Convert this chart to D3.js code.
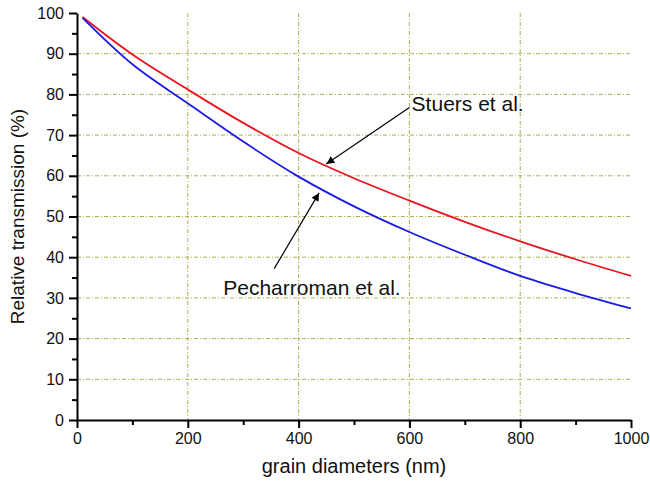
<!DOCTYPE html>
<html>
<head>
<meta charset="utf-8">
<script src="https://cdn.jsdelivr.net/npm/d3@7"></script>
<style>
  body { margin: 0; background: #fff; }
  text { font-family: Arial, "Liberation Sans", sans-serif; fill: #111; }
</style>
</head>
<body>
<div id="chart"></div>
<script>
var diameters = [10, 100, 200, 300, 400, 500, 600, 700, 800, 900, 1000];
var stuers = [99, 89.8, 81.2, 73.0, 65.6, 59.4, 53.9, 48.7, 43.9, 39.5, 35.4];
var pecharroman = [98.8, 87.4, 77.8, 68.4, 59.8, 52.5, 46.2, 40.6, 35.4, 31.2, 27.4];
var xTicks = [0, 200, 400, 600, 800, 1000];
var yTicks = [0, 10, 20, 30, 40, 50, 60, 70, 80, 90, 100];

var margin = {top: 13, right: 19, bottom: 67, left: 77},
    width = 650 - margin.left - margin.right,
    height = 487 - margin.top - margin.bottom;

var svg = d3.select("#chart")
    .append("svg")
    .attr("width", 650)
    .attr("height", 487)

var g = svg.append("g")
    .attr("transform", "translate(" + margin.left + "," + margin.top + ")")

var x = d3.scaleLinear().domain([0, 1000]).range([0, width]),
    y = d3.scaleLinear().domain([0, 100]).range([height, 0])

// grid
var gridColor = "#b0ad52";
g.selectAll(".vgrid")
    .data(xTicks.filter(function (d) { return d > 0 && d < 1000; }))
    .enter().append("line")
    .attr("x1", function (d) { return x(d); })
    .attr("x2", function (d) { return x(d); })
    .attr("y1", 0).attr("y2", height)
    .attr("stroke", gridColor)
    .attr("stroke-width", 1)
    .attr("stroke-dasharray", "4,2,1,2")

g.selectAll(".hgrid")
    .data(yTicks.filter(function (d) { return d > 0 && d < 100; }))
    .enter().append("line")
    .attr("x1", 0).attr("x2", width)
    .attr("y1", function (d) { return y(d); })
    .attr("y2", function (d) { return y(d); })
    .attr("stroke", gridColor)
    .attr("stroke-width", 1)
    .attr("stroke-dasharray", "4,2,1,2")

// minor ticks
g.append("g")
    .attr("transform", "translate(0," + height + ")")
    .call(d3.axisBottom(x).tickValues([100, 300, 500, 700, 900]).tickSize(5).tickFormat(""))
    .call(function (a) { a.select(".domain").remove(); })

g.append("g")
    .call(d3.axisLeft(y).tickValues(d3.range(5, 100, 10)).tickSize(5).tickFormat(""))
    .call(function (a) { a.select(".domain").remove(); })

// major axes
var xAxis = g.append("g")
    .attr("class", "axis axis--x")
    .attr("transform", "translate(0," + height + ")")
    .call(d3.axisBottom(x).tickValues(xTicks).tickFormat(d3.format("d")).tickSize(8).tickSizeOuter(0).tickPadding(5))

var yAxis = g.append("g")
    .attr("class", "axis axis--y")
    .call(d3.axisLeft(y).tickValues(yTicks).tickSize(8).tickSizeOuter(0).tickPadding(5))

svg.selectAll(".tick line").attr("stroke", "#000").attr("stroke-width", 2)
svg.selectAll(".domain").attr("stroke", "#000").attr("stroke-width", 2)
svg.selectAll(".tick text").style("font-size", "16px").style("font-family", "Arial, 'Liberation Sans', sans-serif").attr("fill", "#111")

// curves
var line = d3.line()
    .x(function (d, i) { return x(diameters[i]); })
    .y(function (d) { return y(d); })
    .curve(d3.curveCatmullRom)

g.append("path")
    .datum(stuers)
    .attr("fill", "none")
    .attr("stroke", "#e8141e")
    .attr("stroke-width", 1.8)
    .attr("d", line)

g.append("path")
    .datum(pecharroman)
    .attr("fill", "none")
    .attr("stroke", "#1a1ae6")
    .attr("stroke-width", 1.8)
    .attr("d", line)

// annotations
svg.append("defs").append("marker")
    .attr("id", "arrow")
    .attr("viewBox", "0 0 10 10")
    .attr("refX", 10).attr("refY", 5)
    .attr("markerWidth", 10).attr("markerHeight", 8)
    .attr("markerUnits", "userSpaceOnUse")
    .attr("orient", "auto")
    .append("path")
    .attr("d", "M0,0 L10,5 L0,10 z")
    .attr("fill", "#000")

// Stuers et al. arrow: from label to red curve near x=450
g.append("line")
    .attr("x1", x(600)).attr("y1", y(76.8))
    .attr("x2", x(450)).attr("y2", y(62.9))
    .attr("stroke", "#000").attr("stroke-width", 1.2)
    .attr("marker-end", "url(#arrow)")

g.append("text")
    .attr("x", x(604)).attr("y", y(75.8))
    .style("font-size", "21px")
    .text("Stuers et al.")

// Pecharroman et al. arrow
g.append("line")
    .attr("x1", x(356)).attr("y1", y(37.2))
    .attr("x2", x(437)).attr("y2", y(55.8))
    .attr("stroke", "#000").attr("stroke-width", 1.2)
    .attr("marker-end", "url(#arrow)")

g.append("text")
    .attr("x", x(264)).attr("y", y(30.8))
    .style("font-size", "21px")
    .text("Pecharroman et al.")

// axis titles
svg.append("text")
    .attr("x", margin.left + width / 2)
    .attr("y", 473)
    .attr("text-anchor", "middle")
    .style("font-size", "20px")
    .text("grain diameters (nm)")

svg.append("text")
    .attr("transform", "translate(24," + (margin.top + height / 2) + ") rotate(-90)")
    .attr("text-anchor", "middle")
    .style("font-size", "19px")
    .text("Relative transmission (%)")
</script>
</body>
</html>
